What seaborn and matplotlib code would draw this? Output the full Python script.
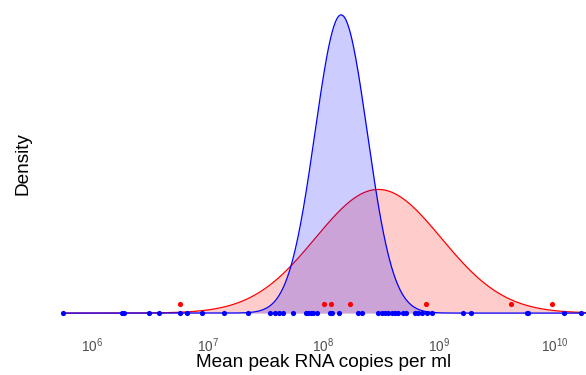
import numpy as np
import pandas as pd
import matplotlib
matplotlib.use("Agg")
import matplotlib.pyplot as plt
import seaborn as sns

# ---- data (copies per ml) ----
blue_points = [5.57e5, 1.79e6, 1.87e6, 3.08e6, 3.73e6, 5.74e6, 6.61e6, 8.85e6,
               1.37e7, 2.20e7, 3.44e7, 3.79e7, 4.13e7, 4.43e7, 5.40e7, 7.05e7,
               7.38e7, 7.73e7, 8.15e7, 8.77e7, 1.14e8, 1.19e8, 1.36e8, 2.00e8,
               2.14e8, 2.98e8, 3.18e8, 3.40e8, 3.63e8, 3.89e8, 4.15e8, 4.44e8,
               4.84e8, 5.16e8, 6.18e8, 6.61e8, 7.06e8, 7.82e8, 8.63e8, 1.62e9,
               1.89e9, 5.73e9, 5.92e9, 1.21e10, 1.69e10]
red_points = [5.71e6, 1.01e8, 1.17e8, 1.69e8, 7.71e8, 4.17e9, 9.44e9]
red_point_height = 0.0535

# fitted log-normal densities (log10 scale): mean, sd
blue_log_mean, blue_log_sd = 8.152, 0.226
red_log_mean, red_log_sd = 8.474, 0.545

tick_values = [1e6, 1e7, 1e8, 1e9, 1e10]
tick_labels = [r"$10^{6}$", r"$10^{7}$", r"$10^{8}$", r"$10^{9}$", r"$10^{10}$"]

sns.set_theme(style="white")
plt.rcParams["font.family"] = ["Liberation Sans", "DejaVu Sans"]
plt.rcParams["mathtext.fontset"] = "custom"
plt.rcParams["mathtext.rm"] = "Liberation Sans"
plt.rcParams["mathtext.it"] = "Liberation Sans"

fig = plt.figure(figsize=(5.86, 3.75), dpi=100)
ax = fig.add_axes([40 / 586, 47 / 375, 546 / 586, 328 / 375])

x_lo = np.log10(min(blue_points + red_points))
x_hi = 10.272
grid = np.linspace(x_lo, x_hi, 600)


def normal_pdf(g, m, s):
    return np.exp(-0.5 * ((g - m) / s) ** 2) / (s * np.sqrt(2 * np.pi))


curves = pd.DataFrame({
    "x": 10 ** grid,
    "blue": normal_pdf(grid, blue_log_mean, blue_log_sd),
    "red": normal_pdf(grid, red_log_mean, red_log_sd),
})

ax.fill_between(curves["x"], 0, curves["red"], color="#FF0000", alpha=0.2, lw=0, zorder=1)
sns.lineplot(data=curves, x="x", y="red", color="#FF0000", lw=0.9, ax=ax, zorder=2)
ax.fill_between(curves["x"], 0, curves["blue"], color="#0000FF", alpha=0.2, lw=0, zorder=3)
sns.lineplot(data=curves, x="x", y="blue", color="#0000FF", lw=0.9, ax=ax, zorder=4)

pts_blue = pd.DataFrame({"x": blue_points, "y": 0.0})
pts_red = pd.DataFrame({"x": red_points, "y": red_point_height})
sns.scatterplot(data=pts_red, x="x", y="y", color="#FF0000", s=14, linewidth=0, ax=ax, zorder=5)
sns.scatterplot(data=pts_blue, x="x", y="y", color="#0000FF", s=14, linewidth=0, ax=ax, zorder=6)

ax.set_xscale("log")
ax.set_xlim(10 ** 5.545, 10 ** 10.272)
peak = normal_pdf(blue_log_mean, blue_log_mean, blue_log_sd)
ax.set_ylim(-0.05 * peak, 1.05 * peak)
ax.set_xticks(tick_values)
ax.set_xticklabels(tick_labels)
ax.xaxis.set_minor_locator(matplotlib.ticker.NullLocator())
ax.set_yticks([])
ax.tick_params(axis="x", length=0, pad=6, labelsize=9.8, labelcolor="#4D4D4D")
for s in ax.spines.values():
    s.set_visible(False)
ax.set_xlabel("Mean peak RNA copies per ml", fontsize=13.7, color="black", labelpad=1)
ax.xaxis.set_label_coords((324 - 40) / 546, -0.08)
ax.set_ylabel("Density", fontsize=13.7, color="black", labelpad=6)

fig.savefig("out.png", dpi=100)
